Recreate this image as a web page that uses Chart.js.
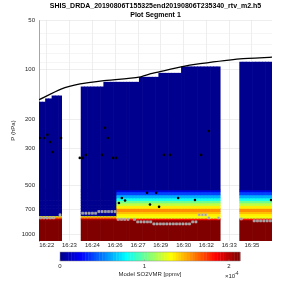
<!DOCTYPE html>
<html>
<head>
<meta charset="utf-8">
<script src="https://cdn.jsdelivr.net/npm/chart.js@4.4.0/dist/chart.umd.min.js"></script>
<style>
  html, body { margin: 0; padding: 0; background: #fff; }
  canvas { display: block; }
</style>
</head>
<body>
<canvas id="myChart" width="300" height="300"></canvas>
<script>
// Columna de datos por perfil (72 columnas a lo largo del vuelo), null = sin datos
const profileTop = [157,157,150,150,144,144,144, null,null,null,null,null,null,
  127,127,127,127,127,127,127,
  119,119,119,119,119,119,119,119,119,119,119,
  111,111,111,111,111,111,
  105,105,105,105,105,105,105,
  96,96,96,96,96,96,96,96,96,96,96,96,
  null,null,null,null,null,null,
  90,90,90,90,90,90,90,90,90,90];
// Tipo de perfil: 0 = sin pluma, 1 = con pluma de SO2
const profileType = [0,0,0,0,0,0,0,0,0,0,0,0,0,0,0,0,0,0,0,0,0,0,0,0,
  1,1,1,1,1,1,1,1,1,1,1,1,1,1,1,1,1,1,1,1,1,1,1,1,
  1,1,1,1,1,1,1,1,1,1,1,1,1,1,1,1,1,1,1,1,1,1,1,1];

// Niveles de presion (hPa) y SO2 (x1e-4 ppmv) por capa
const layerEdges = [80, 535, 549, 573, 598, 620, 641, 665, 692, 724, 745, 768, 779, 794, 812, 1100];
const so2Clean = [0, 0, 0, 0, 0, 0, 0, 0, 0, 0, 0, 1.32, 1.6, 2.0, 2.13];
const so2Plume = [0, 0.17, 0.38, 0.6, 0.81, 1.0, 1.19, 1.34, 1.55, 1.45, 1.34, 1.32, 1.24, 1.81, 2.13];

// Marcas de superficie (cuadros grises) por columna
const surfaceP = [790,790,790,790,790,null,757, null,null,null,null,null,null,
  740,740,740,740,740, 723,723,723,723,723,723,
  806,806,806,806, null, 806, 835,835,835,835,835,
  859,859,859,859,859,859,859,859,859,859,859,859,
  835,835, 757,757,757, 790, null,null, 790,
  null,null,null,null,null,null,
  801, null,null,null, 823,823,823,823,823,823];

// Puntos negros
const dotX = [0.2,1.6,2.6,3.4,4.2,6.8,12.6,13.5,14.5,19.5,20.4,21.3,22.9,23.8,38.6,40.5,50.1,52.5,
  24.7,25.6,26.6,33.4,36.2,34.3,37.1,43.0,48.2,71.7];
const dotP = [259,259,248,274,315,259,342,342,328,328,225,259,342,342,328,328,328,235,
  641,598,620,557,557,655,677,598,615,615];

// Trayectoria (linea negra)
const trackX = [0, 6.8, 12.7, 19.5, 30.9, 34.3, 37.1, 43.9, 49.8, 62.1, 72];
const trackP = [152, 131, 122, 117, 111, 106, 103, 96, 92, 86, 84];

// Ejes
const timeTickPos = [2.4, 9.4, 16.5, 23.5, 30.6, 37.6, 44.7, 51.7, 58.8, 65.8];
const timeTickLabels = ['16:22','16:23','16:24','16:26','16:27','16:29','16:30','16:32','16:33','16:35'];
const pressureTicks = [50, 100, 200, 300, 500, 700, 1000];
const pressureMinor = [60, 70, 80, 90];

// Barra de color
const cbarTicks = [0, 1, 2];
const cbarMax = 2.13;

function jet(v){
  let i = Math.min(64, Math.floor(v / cbarMax * 64) + 1);
  const t = i / 64;
  const f = x => Math.round(255 * Math.max(0, Math.min(1, x)));
  return 'rgb(' + f(1.5 - Math.abs(4*t - 3)) + ',' + f(1.5 - Math.abs(4*t - 2)) + ',' + f(1.5 - Math.abs(4*t - 1)) + ')';
}

const datasets = [];
for(let k = 0; k < layerEdges.length - 1; k++){
  let pts = [];
  profileTop.forEach((top, i) => {
    if(top === null || top >= layerEdges[k+1]) return;
    pts.push({x: i + 0.5, y: [Math.max(top, layerEdges[k]), layerEdges[k+1]], col: i});
  });
  datasets.push({
    type: 'bar',
    data: pts,
    grouped: false,
    barPercentage: 1,
    categoryPercentage: 1,
    borderWidth: 0,
    backgroundColor: c => c.raw ? jet((profileType[c.raw.col] ? so2Plume : so2Clean)[k]) : 'rgba(0,0,0,0)',
    order: 3
  });
}

datasets.push({
  type: 'line',
  data: surfaceP.map((p, i) => p === null ? null : {x: i + 0.5, y: p}).filter(d => d),
  showLine: false,
  pointStyle: 'rect',
  pointRadius: 1.5,
  backgroundColor: '#9a9a9a',
  borderColor: '#c4c4c4',
  borderWidth: 0.5,
  order: 1
});
datasets.push({
  type: 'line',
  data: dotX.map((x, i) => ({x: x, y: dotP[i]})),
  showLine: false,
  pointRadius: 1.3,
  backgroundColor: '#000',
  borderColor: '#000',
  borderWidth: 0,
  order: 0
});
datasets.push({
  type: 'line',
  data: trackX.map((x, i) => ({x: x, y: trackP[i]})),
  borderColor: '#000',
  borderWidth: 1.3,
  pointRadius: 0,
  tension: 0.2,
  order: 0
});

const colorbar = {
  id: 'colorbar',
  afterDraw(chart){
    const c = chart.ctx;
    const x0 = 60, x1 = 240, y0 = 252, y1 = 261;
    for(let i = 0; i < 64; i++){
      c.fillStyle = jet((i + 0.5) / 64 * cbarMax);
      const a = x0 + (x1 - x0) * i / 64;
      c.fillRect(a, y0, (x1 - x0) / 64 + 0.4, y1 - y0);
    }
    c.strokeStyle = '#8a8a8a';
    c.lineWidth = 0.5;
    c.strokeRect(x0, y0, x1 - x0, y1 - y0);
    c.fillStyle = '#262626';
    c.font = '6px "Liberation Sans", Arial, sans-serif';
    c.textAlign = 'center';
    c.textBaseline = 'middle';
    cbarTicks.forEach(v => {
      const x = x0 + (x1 - x0) * v / cbarMax;
      c.beginPath(); c.moveTo(x, y1); c.lineTo(x, y1 - 1.5); c.stroke();
      c.fillText(String(v), x, 266.5);
    });
    c.fillText('Model SO2VMR [ppmv]', 150, 274);
    c.textAlign = 'left';
    c.fillText('\u00d710', 225, 276);
    c.font = '4.5px "Liberation Sans", Arial, sans-serif';
    c.fillText('-4', 234.5, 273.5);
  }
};

const font = {family: '"Liberation Sans", Arial, sans-serif', size: 6};

new Chart(document.getElementById('myChart').getContext('2d'), {
  type: 'bar',
  data: {datasets: datasets},
  options: {
    responsive: false,
    animation: false,
    devicePixelRatio: 1,
    layout: {padding: {left: 0, right: 28, top: 0, bottom: 49}},
    plugins: {
      legend: {display: false},
      tooltip: {enabled: false},
      title: {
        display: true,
        fullSize: false,
        text: ['SHIS_DRDA_20190806T155325end20190806T235340_rtv_m2.h5', 'Plot Segment 1'],
        color: '#000',
        font: {family: font.family, size: 7, weight: 'bold', lineHeight: '9px'},
        padding: {top: 2, bottom: 0}
      }
    },
    scales: {
      x: {
        type: 'linear',
        min: 0,
        max: 72,
        offset: false,
        afterBuildTicks: s => { s.ticks = timeTickPos.map(v => ({value: v})); },
        afterFit: s => { s.height = 10; },
        ticks: {
          callback: (v, i) => timeTickLabels[i],
          autoSkip: false, maxRotation: 0, padding: 1,
          color: '#262626', font: font
        },
        grid: {offset: false, color: '#e3e3e3', lineWidth: 0.6, drawTicks: false},
        border: {display: false}
      },
      y: {
        type: 'logarithmic',
        min: 50,
        max: 1090,
        reverse: true,
        afterBuildTicks: s => {
          s.ticks = pressureTicks.concat(pressureMinor).sort((a, b) => a - b).map(v => ({value: v}));
        },
        afterFit: s => { s.width = 39; },
        ticks: {
          callback: v => pressureTicks.includes(v) ? String(v) : '',
          padding: 4, color: '#262626', font: font
        },
        grid: {
          color: c => pressureTicks.includes(c.tick.value) ? '#e3e3e3' : '#efefef',
          lineWidth: 0.6, drawTicks: false
        },
        border: {display: true, color: '#6a6a6a', width: 0.6},
        title: {display: true, text: 'P (hPa)', color: '#262626', font: font, padding: {top: 10, bottom: 0}}
      }
    }
  },
  plugins: [colorbar]
});
</script>
</body>
</html>
